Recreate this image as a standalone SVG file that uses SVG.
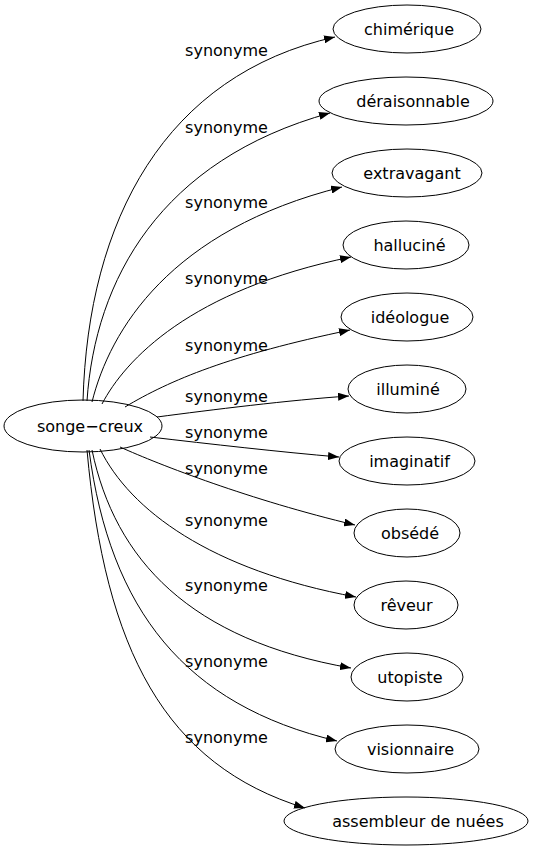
<svg xmlns="http://www.w3.org/2000/svg" width="534" height="851" viewBox="0 0 534 851">
<defs>
<style>
.n ellipse{fill:none;stroke:#000;stroke-width:1}
text{font-family:"DejaVu Sans",sans-serif;font-size:16px;fill:#000;text-anchor:middle}
.e path{fill:none;stroke:#000;stroke-width:1}
</style>
<marker id="ah" markerUnits="userSpaceOnUse" markerWidth="12" markerHeight="8" refX="11" refY="4" orient="auto">
<path d="M0,0 L11,4 L0,8 z" fill="#000"/>
</marker>
</defs>
<rect width="534" height="851" fill="#fff"/>
<g id="edges" class="e">
<path marker-end="url(#ah)" d="M83,401 C88,220 165,75 335,37"/>
<path marker-end="url(#ah)" d="M87,401 C95,280 160,160 330,113"/>
<path marker-end="url(#ah)" d="M92,402 C110,330 170,230 342,187"/>
<path marker-end="url(#ah)" d="M102,404 C125,360 190,290 351,257"/>
<path marker-end="url(#ah)" d="M125,407 C170,380 230,355 350,330"/>
<path marker-end="url(#ah)" d="M157,417 C210,410 290,400 349,396"/>
<path marker-end="url(#ah)" d="M150,437 C210,444 280,452 339,457"/>
<path marker-end="url(#ah)" d="M120,447 C160,465 250,500 355,525"/>
<path marker-end="url(#ah)" d="M100,449 C130,510 210,570 356,597"/>
<path marker-end="url(#ah)" d="M92,450 C115,560 190,640 351,668"/>
<path marker-end="url(#ah)" d="M89,450 C110,610 185,705 337,741"/>
<path marker-end="url(#ah)" d="M87,450 C105,650 165,765 305,808"/>
</g>
<g id="labels">
<text x="226.5" y="56">synonyme</text>
<text x="226.5" y="133">synonyme</text>
<text x="226.5" y="208">synonyme</text>
<text x="226.5" y="284">synonyme</text>
<text x="226.5" y="351">synonyme</text>
<text x="226.5" y="402">synonyme</text>
<text x="226.5" y="438">synonyme</text>
<text x="226.5" y="474">synonyme</text>
<text x="226.5" y="526">synonyme</text>
<text x="226.5" y="591">synonyme</text>
<text x="226.5" y="667">synonyme</text>
<text x="226.5" y="743">synonyme</text>
</g>
<g id="songe-creux" class="n"><ellipse cx="83" cy="426" rx="79" ry="26"/><text x="90" y="432">songe−creux</text></g>
<g id="chimerique" class="n"><ellipse cx="407" cy="29" rx="74" ry="24"/><text x="409" y="35">chimérique</text></g>
<g id="deraisonnable" class="n"><ellipse cx="406" cy="101" rx="87" ry="24"/><text x="413" y="107">déraisonnable</text></g>
<g id="extravagant" class="n"><ellipse cx="407" cy="173" rx="75" ry="24"/><text x="412" y="179">extravagant</text></g>
<g id="hallucine" class="n"><ellipse cx="406" cy="245" rx="63" ry="24"/><text x="409.5" y="251">halluciné</text></g>
<g id="ideologue" class="n"><ellipse cx="407" cy="317" rx="66" ry="24"/><text x="410" y="323">idéologue</text></g>
<g id="illumine" class="n"><ellipse cx="407" cy="389" rx="59" ry="24"/><text x="408" y="395">illuminé</text></g>
<g id="imaginatif" class="n"><ellipse cx="407" cy="461" rx="68" ry="24"/><text x="409.5" y="467">imaginatif</text></g>
<g id="obsede" class="n"><ellipse cx="407" cy="533" rx="53" ry="24"/><text x="410" y="539">obsédé</text></g>
<g id="reveur" class="n"><ellipse cx="406" cy="605" rx="52" ry="24"/><text x="406.5" y="611">rêveur</text></g>
<g id="utopiste" class="n"><ellipse cx="407" cy="677" rx="56" ry="24"/><text x="410" y="683">utopiste</text></g>
<g id="visionnaire" class="n"><ellipse cx="407" cy="749" rx="72" ry="24"/><text x="410.5" y="755">visionnaire</text></g>
<g id="assembleur" class="n"><ellipse cx="406" cy="821" rx="122" ry="24"/><text x="418" y="827">assembleur de nuées</text></g>
</svg>
